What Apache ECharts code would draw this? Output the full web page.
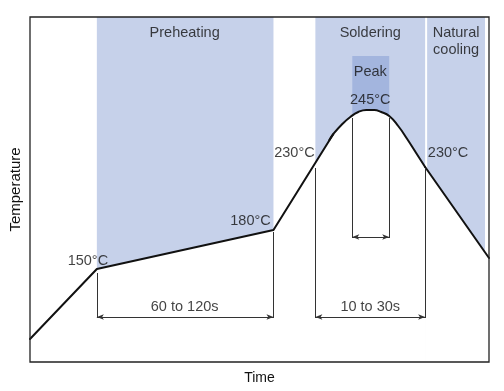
<!DOCTYPE html>
<html>
<head>
<meta charset="utf-8">
<script src="https://cdn.jsdelivr.net/npm/echarts@6/dist/echarts.min.js"></script>
<style>html,body{margin:0;padding:0;background:#fff}#c{width:504px;height:391px}</style>
</head>
<body>
<div id="c"></div>
<script>
// Schematic reflow profile (arbitrary time / temperature units)
// straight ramp: start -> 150°C -> 180°C -> upper ramp
const rampTime = [0, 67, 244, 304];
const rampTemp = [23, 93, 132, 228];
// rounded peak
const peakTime = [300, 304, 313, 321, 329, 337, 345, 352, 360, 369, 378, 387, 396];
const peakTemp = [222, 228, 238, 245, 250, 252, 252, 250, 246, 236, 223, 209, 195];
// natural cooling
const coolTime = [396, 460];
const coolTemp = [195, 104];

// Shaded zones [start, end]
const zoneStarts = [67, 286, 398];
const zoneEnds = [244, 396, 456];
const peakZone = [323, 360];
const peakTop = 306;

// Dimension lines
const dimVertX = [67, 244, 286, 396, 323, 360];
const dimVertTop = [89, 130, 194, 194, 244, 244];
const dimVertBottom = [44, 44, 44, 44, 124, 124];
const arrowStarts = [67, 286, 323];
const arrowEnds = [244, 396, 360];
const arrowY = [45, 45, 125];

// Annotation texts
const labelTexts = ['Preheating', 'Soldering', 'Natural\ncooling', 'Peak', '245°C', '230°C', '230°C', '180°C', '150°C', '60 to 120s', '10 to 30s'];
const labelX = [155, 341, 427, 341, 341, 265, 419, 221, 58, 155, 341];
const labelY = [329, 329, 321, 290, 262, 209, 209, 141, 101, 55, 55];

const FONT = "'Liberation Sans', Arial, sans-serif";
const chart = echarts.init(document.getElementById('c'));

const zoneAreas = zoneStarts.map((s, i) => [{ xAxis: s, yAxis: 345 }, { xAxis: zoneEnds[i], yAxis: 0 }]);
const vertLines = dimVertX.map((x, i) => [{ coord: [x, dimVertTop[i]] }, { coord: [x, dimVertBottom[i]] }]);
const arrowLines = arrowStarts.map((s, i) => [{ coord: [s, arrowY[i]] }, { coord: [arrowEnds[i], arrowY[i]] }]);

function curve(xs, ys, smooth) {
  return {
    type: 'line', z: 2, silent: true,
    data: xs.map((t, i) => [t, ys[i]]),
    symbol: 'none', smooth: smooth,
    lineStyle: { color: '#111', width: 2, cap: 'round', join: 'round' },
    areaStyle: { color: '#ffffff', opacity: 1 }
  };
}

chart.setOption({
  animation: false,
  grid: { left: 29, top: 17, right: 15, bottom: 29, show: true, borderColor: '#222', borderWidth: 1.3, z: 20 },
  xAxis: {
    type: 'value', min: 0, max: 460,
    name: 'Time', nameLocation: 'middle', nameGap: 9,
    nameTextStyle: { fontFamily: FONT, fontSize: 14, color: '#111', verticalAlign: 'top' },
    axisLine: { show: false }, axisTick: { show: false }, axisLabel: { show: false }, splitLine: { show: false }
  },
  yAxis: {
    type: 'value', min: 0, max: 345,
    name: 'Temperature', nameLocation: 'middle', nameGap: 7,
    nameTextStyle: { fontFamily: FONT, fontSize: 15, color: '#111' },
    axisLine: { show: false }, axisTick: { show: false }, axisLabel: { show: false }, splitLine: { show: false }
  },
  series: [
    {
      type: 'line', data: [], z: 1, silent: true,
      markArea: {
        silent: true,
        itemStyle: { color: '#c6d1ea' },
        data: zoneAreas.concat([[{ xAxis: peakZone[0], yAxis: peakTop, itemStyle: { color: '#a3b5de' } }, { xAxis: peakZone[1], yAxis: 0 }]])
      }
    },
    curve(rampTime, rampTemp, false),
    curve(peakTime, peakTemp, 0.5),
    curve(coolTime, coolTemp, false),
    {
      type: 'line', data: [], z: 3, silent: true,
      markLine: {
        silent: true, symbol: ['none', 'none'], animation: false,
        lineStyle: { color: '#333', width: 1, type: 'solid' },
        label: { show: false },
        data: vertLines
      }
    },
    {
      type: 'line', data: [], z: 3, silent: true,
      markLine: {
        silent: true, symbol: ['arrow', 'arrow'], symbolSize: [4, 7], animation: false,
        lineStyle: { color: '#333', width: 1, type: 'solid' },
        label: { show: false },
        data: arrowLines
      }
    },
    {
      type: 'scatter', z: 4, silent: true,
      symbolSize: 1,
      itemStyle: { color: 'transparent' },
      data: labelTexts.map((t, i) => [labelX[i], labelY[i], t]),
      label: {
        show: true, position: 'inside',
        formatter: p => p.value[2],
        fontFamily: FONT, fontSize: 14.5, color: '#111', lineHeight: 17
      }
    }
  ]
});
</script>
</body>
</html>
